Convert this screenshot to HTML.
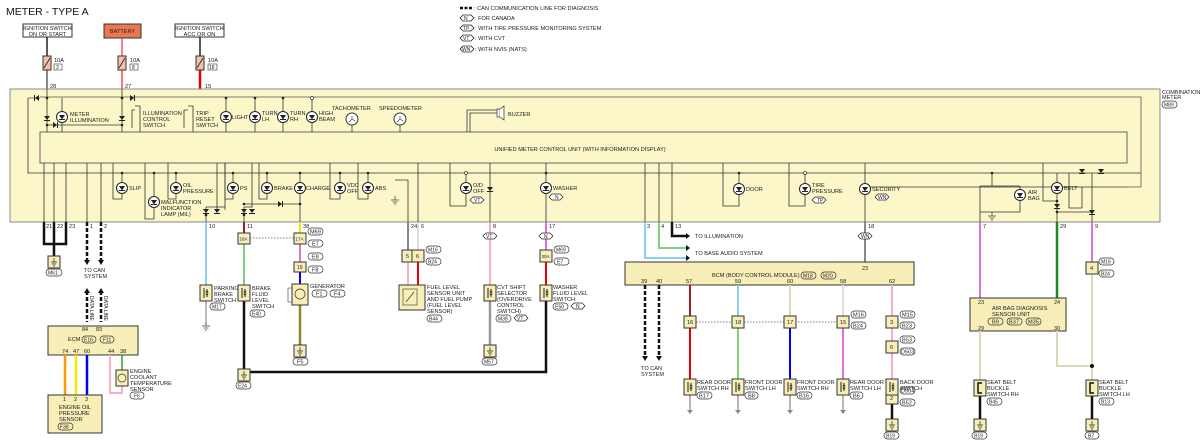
<!DOCTYPE html>
<html><head><meta charset="utf-8"><style>
html,body{margin:0;padding:0;background:#fff;width:1200px;height:441px;overflow:hidden}
svg{display:block}
text{font-family:"Liberation Sans",sans-serif;font-size:5.6px;fill:#222}
.w{fill:none;stroke-linecap:butt}
</style></head><body>
<svg width="1200" height="441" viewBox="0 0 1200 441" xmlns="http://www.w3.org/2000/svg" overflow="hidden">
<defs>
<g id="led"><circle r="5.5" fill="#fff" stroke="#222" stroke-width="1"/><path d="M-3,-2 L3,-2 L0,2.5 Z" fill="#222"/><path d="M-3,2.5 H3" stroke="#222" stroke-width="1"/></g>
<g id="dd"><path d="M-3,-2 L3,-2 L0,2 Z" fill="#222"/><path d="M-3,2.5 H3" stroke="#222"/></g>
<g id="gnd"><path d="M0,0 V4 M-4,4 H4 M-2.5,6 H2.5 M-1,8 H1" stroke="#444" stroke-width="0.8" fill="none"/></g>
<g id="sw"><rect x="-6" y="-8" width="12" height="16" fill="#f7eeb8" stroke="#333"/><path d="M-2,-5 V5 M1,-4 L1,-1 M1,1 L1,4" stroke="#222"/><circle cx="1" cy="-1" r="1" fill="none" stroke="#222" stroke-width="0.6"/><circle cx="1" cy="1" r="1" fill="none" stroke="#222" stroke-width="0.6"/></g>
<g id="gbox"><rect x="-6" y="-6" width="12" height="12" fill="#f7eeb8" stroke="#333"/><path d="M0,-4 V0 M-3,0 H3 M-2,2 H2 M-1,4 H1" stroke="#222" stroke-width="0.7"/></g>
</defs>

<text x="6" y="15" style="font-size:10.5px;fill:#111">METER - TYPE A</text>
<path d="M460,8 H472" stroke="#111" stroke-width="2.5" stroke-dasharray="3,1.5"/>
<text x="474" y="10">: CAN COMMUNICATION LINE FOR DIAGNOSIS</text>
<g stroke="#222" fill="#fff" stroke-width="0.8">
<path d="M460,18 l3,-3 h8 l3,3 l-3,3 h-8z"/><path d="M460,28 l3,-3 h8 l3,3 l-3,3 h-8z"/><path d="M460,38 l3,-3 h8 l3,3 l-3,3 h-8z"/><path d="M460,49 l3,-3 h8 l3,3 l-3,3 h-8z"/></g>
<text x="464" y="20" style="font-size:5px">N</text><text x="463" y="30" style="font-size:5px">TP</text><text x="463" y="40" style="font-size:5px">VT</text><text x="462" y="51" style="font-size:5px">WN</text>
<text x="475" y="20">: FOR CANADA</text><text x="475" y="30">: WITH TIRE PRESSURE MONITORING SYSTEM</text><text x="475" y="40">: WITH CVT</text><text x="475" y="51">: WITH NVIS (NATS)</text>

<rect x="23" y="24" width="49" height="13" fill="#fff" stroke="#333"/>
<text x="47.5" y="30" text-anchor="middle">IGNITION SWITCH</text><text x="47.5" y="36" text-anchor="middle">ON OR START</text>
<rect x="104" y="24" width="37" height="14" fill="#e8784f" stroke="#333"/>
<text x="122.5" y="33" text-anchor="middle">BATTERY</text>
<rect x="175" y="24" width="49" height="13" fill="#fff" stroke="#333"/>
<text x="199.5" y="30" text-anchor="middle">IGNITION SWITCH</text><text x="199.5" y="36" text-anchor="middle">ACC OR ON</text>
<path d="M47,37 V57" stroke="#222" stroke-width="1.5"/><path d="M47,70 V89" stroke="#888" stroke-width="2"/>
<path d="M122,38 V57" stroke="#e33" stroke-width="1.2"/><path d="M122,70 V89" stroke="#f77" stroke-width="2"/>
<path d="M200,37 V57" stroke="#222" stroke-width="1.5"/><path d="M200,70 V89" stroke="#e00" stroke-width="2.5"/>
<g fill="#f3c2a8" stroke="#333"><rect x="43" y="56" width="8" height="14"/><rect x="118" y="56" width="8" height="14"/><rect x="196" y="56" width="8" height="14"/></g>
<path d="M44,68 L50,58 M119,68 L125,58 M197,68 L203,58" stroke="#333"/>
<text x="54" y="62">10A</text><rect x="54" y="64" width="8" height="6" fill="none" stroke="#333" stroke-width="0.6"/><text x="56" y="69" style="font-size:5px">3</text>
<text x="130" y="62">10A</text><rect x="130" y="64" width="8" height="6" fill="none" stroke="#333" stroke-width="0.6"/><text x="132" y="69" style="font-size:5px">8</text>
<text x="208" y="62">10A</text><rect x="208" y="64" width="9" height="6" fill="none" stroke="#333" stroke-width="0.6"/><text x="209" y="69" style="font-size:5px">18</text>
<text x="50" y="88">28</text><text x="125" y="88">27</text><text x="205" y="88">15</text>

<rect x="10" y="89" width="1150" height="133" fill="#fcf7c8" stroke="#888"/>
<text x="1162" y="94" style="font-size:5.5px">COMBINATION</text><text x="1162" y="99" style="font-size:5.5px">METER</text>
<rect x="1162" y="101" width="15" height="7" rx="3.5" fill="none" stroke="#333" stroke-width="0.7"/><text x="1164" y="106.5" style="font-size:5px">M89</text>
<g stroke="#333" stroke-width="0.8" fill="none">
<path d="M28,98 V173 H1141"/>
</g>
<rect x="40" y="132" width="1087" height="31" fill="#fcf7c8" stroke="#555" stroke-width="0.9"/>
<text x="580" y="151" text-anchor="middle">UNIFIED METER CONTROL UNIT (WITH INFORMATION DISPLAY)</text>
<path d="M1141,97 H40" stroke="#555" stroke-width="0.8" fill="none"/>
<path d="M28,98 H40" stroke="#555" stroke-width="0.8" fill="none"/>
<path d="M1141,97 V187 M1141,187 H1127" stroke="#555" stroke-width="0.8" fill="none"/>
<g stroke="#333" stroke-width="0.8" fill="none">
<path d="M47,89 V132 M122,89 V132 M62,98 V132 M226,98 V132 M255,98 V132 M283,98 V132 M312,98 V132"/>
<path d="M47,125 H122"/>
<path d="M135,110 H132 V128 M135,106 H140 V132 M188,110 H184 V128 M188,106 H193 V132"/>
<path d="M352,120 V132 M400,120 V132 M470,132 V113 H497 M467,132 V110 H497"/>
</g>
<use href="#dd" x="37" y="98" transform="rotate(90 37 98)"/><use href="#dd" x="132" y="98" transform="rotate(-90 132 98)"/>
<use href="#dd" x="47" y="118"/><use href="#dd" x="122" y="118"/><use href="#dd" x="55" y="125" transform="rotate(-90 55 125)"/>
<g fill="#222"><circle cx="47" cy="98" r="1.3"/><circle cx="122" cy="98" r="1.3"/><circle cx="226" cy="98" r="1.3"/><circle cx="255" cy="98" r="1.3"/><circle cx="283" cy="98" r="1.3"/><circle cx="47" cy="125" r="1.3"/><circle cx="122" cy="125" r="1.3"/></g>
<circle cx="312" cy="98" r="1.5" fill="#fff" stroke="#333" stroke-width="0.7"/>
<use href="#led" x="62" y="117"/><use href="#led" x="226" y="117"/><use href="#led" x="255" y="117"/><use href="#led" x="283" y="117"/><use href="#led" x="312" y="117"/>
<text x="70" y="116">METER</text><text x="70" y="122">ILLUMINATION</text>
<text x="143" y="115">ILLUMINATION</text><text x="143" y="121">CONTROL</text><text x="143" y="127">SWITCH</text>
<text x="196" y="115">TRIP</text><text x="196" y="121">RESET</text><text x="196" y="127">SWITCH</text>
<text x="232" y="119">LIGHT</text><text x="262" y="115">TURN</text><text x="262" y="121">LH</text><text x="290" y="115">TURN</text><text x="290" y="121">RH</text><text x="319" y="115">HIGH</text><text x="319" y="121">BEAM</text>
<circle cx="352" cy="119" r="6" fill="#fff" stroke="#333"/><circle cx="400" cy="119" r="6" fill="#fff" stroke="#333"/>
<path d="M352,119 l-3,3 M352,119 l3,2 M352,119 v-3 M400,119 l-3,3 M400,119 l3,2 M400,119 v-3" stroke="#333" stroke-width="0.6"/>
<text x="332" y="110">TACHOMETER</text><text x="379" y="110">SPEEDOMETER</text>
<rect x="497" y="109" width="3" height="8" fill="#fff" stroke="#333" stroke-width="0.7"/><path d="M500,109 L504,106 V120 L500,117" fill="#fff" stroke="#333" stroke-width="0.7"/>
<text x="508" y="116">BUZZER</text>

<g stroke="#333" stroke-width="0.8" fill="none">
<path d="M44,163 V222 M54,163 V222 M66,163 V222 M87,163 V222 M101,163 V222"/>
<path d="M113,163 V199 H122 V173 M145,163 V219 H154 V173 M168,163 V199 H176 V173"/>
<path d="M217,163 V210 M225,163 V210 M206,207 H225 M206,207 V222 M244,207 H252 V163 M244,207 V222"/>
<path d="M225,163 V199 H233 V173 M259,163 V199 H267 V173 M244,204 H300 M300,173 V222"/>
<path d="M330,163 V199 H340 V173 M358,163 V199 H368 V173 M395,180 H408 V222 M418,163 V222"/>
<path d="M450,163 V206 H466 V173 M490,163 V222 M546,163 V222"/>
<path d="M645,163 V222 M659,163 V222 M672,163 V222 M723,163 V206 H739 V173 M789,163 V206 H805 V173"/>
<path d="M865,163 V222 M1127,187 H865"/>
<path d="M980,186 V222 M980,186 H1020 M1020,186 V212 H980 M992,173 V186 M1043,163 V201 H1057 V173 M1057,201 V222 M1057,212 H1092 M1069,173 V208 H1082 M1092,173 V222"/>
<path d="M1082,187 V208"/>
</g>
<g fill="#222"><circle cx="122" cy="173" r="1.3"/><circle cx="154" cy="173" r="1.3"/><circle cx="176" cy="173" r="1.3"/><circle cx="233" cy="173" r="1.3"/><circle cx="267" cy="173" r="1.3"/><circle cx="300" cy="173" r="1.3"/><circle cx="340" cy="173" r="1.3"/><circle cx="368" cy="173" r="1.3"/><circle cx="546" cy="173" r="1.3"/><circle cx="739" cy="173" r="1.3"/><circle cx="992" cy="173" r="1.3"/><circle cx="300" cy="204" r="1.3"/><circle cx="244" cy="204" r="1.3"/><circle cx="1057" cy="201" r="1.3"/><circle cx="1057" cy="212" r="1.3"/><circle cx="1092" cy="212" r="1.3"/><circle cx="206" cy="215" r="1.3"/><circle cx="244" cy="215" r="1.3"/></g>
<circle cx="466" cy="173" r="1.5" fill="#fff" stroke="#333" stroke-width="0.7"/><circle cx="805" cy="173" r="1.5" fill="#fff" stroke="#333" stroke-width="0.7"/>
<use href="#led" x="122" y="188"/><use href="#led" x="154" y="202"/><use href="#led" x="176" y="188"/><use href="#led" x="233" y="188"/><use href="#led" x="267" y="188"/><use href="#led" x="300" y="188"/><use href="#led" x="340" y="188"/><use href="#led" x="368" y="188"/><use href="#led" x="466" y="188"/><use href="#led" x="546" y="188"/><use href="#led" x="739" y="189"/><use href="#led" x="805" y="189"/><use href="#led" x="865" y="189"/><use href="#led" x="1020" y="195"/><use href="#led" x="1057" y="188"/>
<use href="#dd" x="206" y="211"/><use href="#dd" x="217" y="211"/><use href="#dd" x="244" y="211"/><use href="#dd" x="252" y="211"/><use href="#dd" x="280" y="204" transform="rotate(-90 280 204)"/><use href="#dd" x="490" y="189"/><use href="#dd" x="1082" y="171"/><use href="#dd" x="1101" y="171"/><use href="#dd" x="1057" y="206"/><use href="#dd" x="1092" y="212"/>
<use href="#gnd" x="395" y="196"/><use href="#gnd" x="992" y="212"/>
<text x="129" y="190">SLIP</text><text x="161" y="204">MALFUNCTION</text><text x="161" y="210">INDICATOR</text><text x="161" y="216">LAMP (MIL)</text>
<text x="183" y="187">OIL</text><text x="183" y="193">PRESSURE</text><text x="240" y="190">PS</text><text x="274" y="190">BRAKE</text><text x="306" y="190">CHARGE</text>
<text x="347" y="187">VDC</text><text x="347" y="193">OFF</text><text x="375" y="190">ABS</text>
<text x="473" y="187">O/D</text><text x="473" y="193">OFF</text><text x="553" y="190">WASHER</text>
<text x="746" y="191">DOOR</text><text x="812" y="187">TIRE</text><text x="812" y="193">PRESSURE</text>
<text x="872" y="191">SECURITY</text><text x="1028" y="194">AIR</text><text x="1028" y="200">BAG</text><text x="1064" y="190">BELT</text>
<g stroke="#222" fill="#fff" stroke-width="0.7">
<path d="M470,200 l3,-3 h8 l3,3 l-3,3 h-8z"/><path d="M549,197 l3,-3 h8 l3,3 l-3,3 h-8z"/><path d="M812,200 l3,-3 h8 l3,3 l-3,3 h-8z"/><path d="M875,197 l3,-3 h8 l3,3 l-3,3 h-8z"/></g>
<text x="474" y="202" style="font-size:5px">VT</text><text x="555" y="199" style="font-size:5px">N</text><text x="817" y="202" style="font-size:5px">TP</text><text x="878" y="199" style="font-size:5px">WN</text>

<g style="font-size:5.5px">
<text x="46" y="228">21</text><text x="57" y="228">22</text><text x="69" y="228">23</text><text x="90" y="228">1</text><text x="104" y="228">2</text><text x="209" y="228">10</text><text x="247" y="228">11</text><text x="303" y="228">38</text><text x="411" y="228">24</text><text x="421" y="228">6</text><text x="493" y="228">8</text><text x="549" y="228">17</text><text x="647" y="228">3</text><text x="661" y="228">4</text><text x="675" y="228">13</text><text x="868" y="228">18</text><text x="983" y="228">7</text><text x="1060" y="228">29</text><text x="1095" y="228">9</text>
</g>

<path d="M44,222 V244 H66 V222 M54,222 V262" class="w" stroke="#111" stroke-width="2.5"/>
<use href="#gbox" x="54" y="262"/>
<rect x="46" y="269" width="16" height="7" rx="3.5" fill="none" stroke="#333" stroke-width="0.7"/><text x="48" y="274.5" style="font-size:5px">M61</text>
<path d="M87,222 V261 M101,222 V261 M87,291 V322 M101,291 V322" stroke="#111" stroke-width="2.5" stroke-dasharray="4,2"/>
<path d="M84,260 L87,265 L90,260 Z M98,260 L101,265 L104,260 Z M84,293 L87,288 L90,293 Z M98,293 L101,288 L104,293 Z" fill="#111"/>
<text x="84" y="272">TO CAN</text><text x="84" y="278">SYSTEM</text>
<text x="90" y="296" transform="rotate(90 90 296)" style="font-size:5px">DATA LINE</text><text x="104" y="296" transform="rotate(90 104 296)" style="font-size:5px">DATA LINE</text>
<rect x="48" y="326" width="90" height="29" fill="#f7eeb8" stroke="#333"/>
<text x="82" y="331" style="font-size:5.5px">84</text><text x="96" y="331" style="font-size:5.5px">83</text>
<text x="68" y="341">ECM</text><rect x="82" y="336" width="14" height="7" rx="3.5" fill="none" stroke="#333" stroke-width="0.7"/><text x="84" y="341.5" style="font-size:5px">E16</text><rect x="100" y="336" width="14" height="7" rx="3.5" fill="none" stroke="#333" stroke-width="0.7"/><text x="103" y="341.5" style="font-size:5px">F11</text>
<g style="font-size:5.5px"><text x="62" y="353">74</text><text x="73" y="353">47</text><text x="84" y="353">60</text><text x="108" y="353">44</text><text x="120" y="353">38</text></g>
<path d="M65,355 V395" stroke="#f90" stroke-width="2.5"/><path d="M76,355 V395" stroke="#ee0" stroke-width="2.5"/><path d="M87,355 V395" stroke="#00f" stroke-width="2.5"/>
<path d="M110,355 V393 H122 V386" class="w" stroke="#f8b0c0" stroke-width="2"/><path d="M122,355 V370" stroke="#080" stroke-width="1.2"/>
<rect x="116" y="370" width="12" height="16" fill="#f7eeb8" stroke="#333"/><circle cx="122" cy="378" r="4" fill="none" stroke="#333" stroke-width="0.7"/>
<text x="130" y="373">ENGINE</text><text x="130" y="379">COOLANT</text><text x="130" y="385">TEMPERATURE</text><text x="130" y="391">SENSOR</text>
<rect x="130" y="392" width="14" height="7" rx="3.5" fill="none" stroke="#333" stroke-width="0.7"/><text x="134" y="397.5" style="font-size:5px">F6</text>
<rect x="48" y="395" width="54" height="38" fill="#f7eeb8" stroke="#333"/>
<text x="63" y="401" style="font-size:5.5px">1</text><text x="74" y="401" style="font-size:5.5px">2</text><text x="85" y="401" style="font-size:5.5px">3</text>
<text x="59" y="409">ENGINE OIL</text><text x="59" y="415">PRESSURE</text><text x="59" y="421">SENSOR</text>
<rect x="58" y="423" width="15" height="7" rx="3.5" fill="none" stroke="#333" stroke-width="0.7"/><text x="60" y="428.5" style="font-size:5px">F38</text>

<path d="M206,222 V285" stroke="#8cd0f0" stroke-width="2"/><path d="M206,300 V325" stroke="#555" stroke-width="0.8"/><use href="#gnd" x="206" y="322"/>
<use href="#sw" x="206" y="293"/><text x="214" y="290">PARKING</text><text x="214" y="296">BRAKE</text><text x="214" y="302">SWITCH</text>
<rect x="210" y="303" width="15" height="7" rx="3.5" fill="none" stroke="#333" stroke-width="0.7"/><text x="212" y="308.5" style="font-size:5px">M17</text>
<path d="M244,222 V233" stroke="#a02020" stroke-width="2"/><path d="M244,244 V285" stroke="#7fd07f" stroke-width="2"/><path d="M244,300 V372 H546 V300" class="w" stroke="#111" stroke-width="2.5"/>
<rect x="238" y="233" width="12" height="11" fill="#f7eeb8" stroke="#333"/><text x="239.5" y="240.5" style="font-size:4.5px">18A</text>
<path d="M250,238 H294" stroke="#555" stroke-width="0.7" stroke-dasharray="1.5,1.5"/>
<use href="#sw" x="244" y="293"/><text x="252" y="290">BRAKE</text><text x="252" y="296">FLUID</text><text x="252" y="302">LEVEL</text><text x="252" y="308">SWITCH</text>
<rect x="250" y="310" width="15" height="7" rx="3.5" fill="none" stroke="#333" stroke-width="0.7"/><text x="252" y="315.5" style="font-size:5px">E40</text>
<use href="#gbox" x="244" y="375"/><rect x="236" y="382" width="15" height="7" rx="3.5" fill="none" stroke="#333" stroke-width="0.7"/><text x="238" y="387.5" style="font-size:5px">E24</text>
<path d="M300,222 V233" stroke="#ee0" stroke-width="2"/><path d="M300,244 V262" stroke="#e070e0" stroke-width="2"/><path d="M300,272 V285" stroke="#00f" stroke-width="2"/><path d="M300,305 V345" stroke="#8a8a2a" stroke-width="2.5"/>
<rect x="294" y="233" width="12" height="11" fill="#f7eeb8" stroke="#333"/><text x="295.5" y="240.5" style="font-size:4.5px">17A</text>
<rect x="294" y="262" width="12" height="10" fill="#f7eeb8" stroke="#333"/><text x="297" y="269" style="font-size:5px">19</text>
<g fill="none" stroke="#333" stroke-width="0.7"><rect x="308" y="228" width="15" height="7" rx="3.5"/><rect x="308" y="240" width="15" height="7" rx="3.5"/><rect x="308" y="253" width="15" height="7" rx="3.5"/><rect x="308" y="266" width="15" height="7" rx="3.5"/><rect x="312" y="290" width="15" height="7" rx="3.5"/><rect x="330" y="290" width="15" height="7" rx="3.5"/><rect x="293" y="358" width="15" height="7" rx="3.5"/></g>
<g style="font-size:5px"><text x="310" y="233.5">M69</text><text x="312" y="245.5">E7</text><text x="312" y="258.5">E8</text><text x="312" y="271.5">F8</text><text x="316" y="295.5">F1</text><text x="334" y="295.5">F4</text><text x="297" y="363.5">F5</text></g>
<rect x="292" y="284" width="16" height="21" fill="#f7eeb8" stroke="#333"/><circle cx="300" cy="294" r="5" fill="none" stroke="#333" stroke-width="0.7"/><path d="M292,288 H288 V302 H292" fill="none" stroke="#333" stroke-width="0.6"/>
<text x="310" y="288">GENERATOR</text><use href="#gbox" x="300" y="351"/>
<path d="M408,222 V250" stroke="#888" stroke-width="2"/><path d="M418,222 V250" stroke="#ddd" stroke-width="2"/><path d="M408,262 V285" stroke="#f8b0c0" stroke-width="2"/><path d="M418,262 V285" stroke="#e00" stroke-width="2"/>
<rect x="402" y="250" width="12" height="12" fill="#f7eeb8" stroke="#333"/><rect x="412" y="250" width="12" height="12" fill="#f7eeb8" stroke="#333"/><text x="406" y="258" style="font-size:5.5px">5</text><text x="416" y="258" style="font-size:5.5px">6</text>
<rect x="426" y="246" width="15" height="7" rx="3.5" fill="none" stroke="#333" stroke-width="0.7"/><text x="428" y="251.5" style="font-size:5px">M16</text><rect x="426" y="258" width="15" height="7" rx="3.5" fill="none" stroke="#333" stroke-width="0.7"/><text x="428" y="263.5" style="font-size:5px">B24</text>
<rect x="399" y="285" width="26" height="25" fill="#f7eeb8" stroke="#333"/><rect x="403" y="289" width="14" height="16" fill="none" stroke="#333" stroke-width="0.6"/><path d="M406,302 L414,292" stroke="#333" stroke-width="0.7"/>
<text x="427" y="289">FUEL LEVEL</text><text x="427" y="295">SENSOR UNIT</text><text x="427" y="301">AND FUEL PUMP</text><text x="427" y="307">(FUEL LEVEL</text><text x="427" y="313">SENSOR)</text>
<rect x="427" y="315" width="15" height="7" rx="3.5" fill="none" stroke="#333" stroke-width="0.7"/><text x="429" y="320.5" style="font-size:5px">B44</text>
<path d="M490,222 V285" stroke="#f8b0c0" stroke-width="2"/><path d="M490,300 V345" stroke="#999" stroke-width="2.5"/>
<path d="M483,236 l3,-3 h8 l3,3 l-3,3 h-8z" fill="#fff" stroke="#222" stroke-width="0.7"/><text x="486" y="238" style="font-size:5px">VT</text>
<use href="#sw" x="490" y="293"/><use href="#gbox" x="490" y="351"/>
<text x="497" y="289">CVT SHIFT</text><text x="497" y="295">SELECTOR</text><text x="497" y="301">(OVERDRIVE</text><text x="497" y="307">CONTROL</text><text x="497" y="313">SWITCH)</text>
<rect x="496" y="315" width="15" height="7" rx="3.5" fill="none" stroke="#333" stroke-width="0.7"/><text x="498" y="320.5" style="font-size:5px">M38</text><path d="M514,318 l3,-3 h8 l3,3 l-3,3 h-8z" fill="#fff" stroke="#222" stroke-width="0.7"/><text x="517" y="320" style="font-size:5px">VT</text>
<rect x="482" y="358" width="15" height="7" rx="3.5" fill="none" stroke="#333" stroke-width="0.7"/><text x="484" y="363.5" style="font-size:5px">M57</text>
<path d="M546,222 V250" stroke="#e070e0" stroke-width="2"/><path d="M546,262 V285" stroke="#e00" stroke-width="2"/>
<path d="M539,236 l3,-3 h8 l3,3 l-3,3 h-8z" fill="#fff" stroke="#222" stroke-width="0.7"/><text x="544" y="238" style="font-size:5px">N</text>
<rect x="540" y="250" width="12" height="12" fill="#f7eeb8" stroke="#333"/><text x="541.5" y="258" style="font-size:4.5px">30A</text>
<rect x="554" y="246" width="15" height="7" rx="3.5" fill="none" stroke="#333" stroke-width="0.7"/><text x="556" y="251.5" style="font-size:5px">M69</text><rect x="554" y="258" width="15" height="7" rx="3.5" fill="none" stroke="#333" stroke-width="0.7"/><text x="557" y="263.5" style="font-size:5px">E7</text>
<use href="#sw" x="546" y="293"/><text x="553" y="289">WASHER</text><text x="553" y="295">FLUID LEVEL</text><text x="553" y="301">SWITCH</text>
<rect x="553" y="303" width="15" height="7" rx="3.5" fill="none" stroke="#333" stroke-width="0.7"/><text x="555" y="308.5" style="font-size:5px">E50</text><path d="M571,306 l3,-3 h8 l3,3 l-3,3 h-8z" fill="#fff" stroke="#222" stroke-width="0.7"/><text x="576" y="308" style="font-size:5px">N</text>

<path d="M645,222 V258 H686" class="w" stroke="#8cd0f0" stroke-width="2"/><path d="M659,222 V248 H686" class="w" stroke="#7fd07f" stroke-width="2"/><path d="M672,222 V236 H686" class="w" stroke="#111" stroke-width="2.5"/>
<path d="M686,233 L690,236 L686,239Z M686,245 L690,248 L686,251Z M686,255 L690,258 L686,261Z" fill="#111"/>
<text x="695" y="238">TO ILLUMINATION</text><text x="695" y="255">TO BASE AUDIO SYSTEM</text>
<path d="M865,222 V262" stroke="#888" stroke-width="2"/>
<path d="M858,236 l3,-3 h8 l3,3 l-3,3 h-8z" fill="#fff" stroke="#222" stroke-width="0.7"/><text x="861" y="238" style="font-size:5px">WN</text>
<rect x="625" y="262" width="289" height="23" fill="#f7eeb8" stroke="#333"/>
<text x="862" y="270" style="font-size:5.5px">23</text>
<text x="712" y="277">BCM (BODY CONTROL MODULE)</text><rect x="801" y="272" width="15" height="7" rx="3.5" fill="none" stroke="#333" stroke-width="0.7"/><text x="803" y="277.5" style="font-size:5px">M18</text><rect x="821" y="272" width="15" height="7" rx="3.5" fill="none" stroke="#333" stroke-width="0.7"/><text x="823" y="277.5" style="font-size:5px">M20</text>
<g style="font-size:5.5px"><text x="641" y="283">39</text><text x="656" y="283">40</text><text x="686" y="283">57</text><text x="735" y="283">59</text><text x="787" y="283">60</text><text x="840" y="283">58</text><text x="889" y="283">62</text></g>
<path d="M645,285 V356 M659,285 V356" stroke="#111" stroke-width="2.5" stroke-dasharray="4,2"/>
<path d="M642,356 L645,361 L648,356Z M656,356 L659,361 L662,356Z" fill="#111"/><text x="641" y="370">TO CAN</text><text x="641" y="376">SYSTEM</text>
<path d="M690,285 V316" stroke="#a02020" stroke-width="2"/><path d="M690,328 V380" stroke="#e00" stroke-width="2"/>
<path d="M738,285 V316" stroke="#8cd0f0" stroke-width="2"/><path d="M738,328 V380" stroke="#7fd07f" stroke-width="2"/>
<path d="M790,285 V316" stroke="#ddd8b8" stroke-width="2"/><path d="M790,328 V380" stroke="#00f" stroke-width="2"/>
<path d="M843,285 V316" stroke="#ddd" stroke-width="2"/><path d="M843,328 V380" stroke="#e070e0" stroke-width="2"/>
<path d="M892,285 V380" stroke="#f8b0c0" stroke-width="2"/><path d="M892,395 V420" stroke="#111" stroke-width="2.5"/>
<path d="M696,322 H838" stroke="#555" stroke-width="0.7" stroke-dasharray="1.5,1.5"/>
<g fill="#f7eeb8" stroke="#333"><rect x="684" y="316" width="12" height="12"/><rect x="732" y="316" width="12" height="12"/><rect x="784" y="316" width="12" height="12"/><rect x="837" y="316" width="12" height="12"/><rect x="886" y="316" width="12" height="12"/><rect x="886" y="341" width="12" height="12"/><rect x="886" y="392" width="12" height="12"/></g>
<g style="font-size:5.5px"><text x="687" y="324">16</text><text x="735" y="324">18</text><text x="787" y="324">17</text><text x="840" y="324">15</text><text x="890" y="324">3</text><text x="890" y="349">6</text><text x="890" y="400">2</text></g>
<g fill="none" stroke="#333" stroke-width="0.7"><rect x="851" y="311" width="15" height="7" rx="3.5"/><rect x="851" y="322" width="15" height="7" rx="3.5"/><rect x="900" y="311" width="15" height="7" rx="3.5"/><rect x="900" y="322" width="15" height="7" rx="3.5"/><rect x="900" y="336" width="15" height="7" rx="3.5"/><rect x="900" y="348" width="15" height="7" rx="3.5"/><rect x="900" y="387" width="15" height="7" rx="3.5"/><rect x="900" y="399" width="15" height="7" rx="3.5"/></g>
<g style="font-size:5px"><text x="853" y="316.5">M16</text><text x="853" y="327.5">B24</text><text x="902" y="316.5">M15</text><text x="902" y="327.5">B23</text><text x="902" y="341.5">B53</text><text x="901" y="353.5">D503</text><text x="901" y="392.5">D504</text><text x="902" y="404.5">B52</text></g>
<g stroke="#888" stroke-width="1.2"><path d="M690,395 V410 M738,395 V410 M790,395 V410 M843,395 V410"/></g>
<path d="M687,410 L690,414 L693,410Z M735,410 L738,414 L741,410Z M787,410 L790,414 L793,410Z M840,410 L843,414 L846,410Z" fill="#888"/>
<use href="#sw" x="690" y="387"/><use href="#sw" x="738" y="387"/><use href="#sw" x="790" y="387"/><use href="#sw" x="843" y="387"/><use href="#sw" x="892" y="387"/>
<text x="697" y="384">REAR DOOR</text><text x="697" y="390">SWITCH RH</text><text x="745" y="384">FRONT DOOR</text><text x="745" y="390">SWITCH LH</text><text x="797" y="384">FRONT DOOR</text><text x="797" y="390">SWITCH RH</text><text x="850" y="384">REAR DOOR</text><text x="850" y="390">SWITCH LH</text><text x="900" y="384">BACK DOOR</text><text x="900" y="390">SWITCH</text>
<g fill="none" stroke="#333" stroke-width="0.7"><rect x="697" y="392" width="15" height="7" rx="3.5"/><rect x="745" y="392" width="13" height="7" rx="3.5"/><rect x="797" y="392" width="15" height="7" rx="3.5"/><rect x="850" y="392" width="13" height="7" rx="3.5"/></g>
<g style="font-size:5px"><text x="699" y="397.5">B17</text><text x="748" y="397.5">B8</text><text x="799" y="397.5">B16</text><text x="853" y="397.5">B6</text></g>
<use href="#gbox" x="892" y="425"/><rect x="884" y="432" width="15" height="7" rx="3.5" fill="none" stroke="#333" stroke-width="0.7"/><text x="886" y="437.5" style="font-size:5px">B19</text>
<path d="M980,222 V298" stroke="#e070e0" stroke-width="2"/><path d="M1057,222 V298" stroke="#1a8a1a" stroke-width="2.5"/>
<rect x="970" y="298" width="96" height="33" fill="#f7eeb8" stroke="#333"/>
<text x="978" y="304" style="font-size:5.5px">23</text><text x="1054" y="304" style="font-size:5.5px">24</text>
<text x="992" y="310">AIR BAG DIAGNOSIS</text><text x="992" y="316">SENSOR UNIT</text>
<g fill="none" stroke="#333" stroke-width="0.7"><rect x="988" y="318" width="15" height="7" rx="3.5"/><rect x="1007" y="318" width="15" height="7" rx="3.5"/><rect x="1026" y="318" width="15" height="7" rx="3.5"/></g>
<g style="font-size:5px"><text x="992" y="323.5">B9</text><text x="1009" y="323.5">B37</text><text x="1028" y="323.5">M35</text></g>
<text x="978" y="330" style="font-size:5.5px">29</text><text x="1054" y="330" style="font-size:5.5px">30</text>
<path d="M980,331 V380" stroke="#ddd8b8" stroke-width="2"/><path d="M1057,331 V366 H1092" class="w" stroke="#ddd8b8" stroke-width="2"/>
<path d="M1092,222 V262" stroke="#e070e0" stroke-width="2"/><path d="M1092,274 V380" stroke="#ddd8b8" stroke-width="2"/><circle cx="1092" cy="366" r="2" fill="#111"/>
<rect x="1086" y="262" width="12" height="12" fill="#f7eeb8" stroke="#333"/><text x="1090" y="270" style="font-size:5.5px">4</text>
<rect x="1099" y="258" width="15" height="7" rx="3.5" fill="none" stroke="#333" stroke-width="0.7"/><text x="1101" y="263.5" style="font-size:5px">M16</text><rect x="1099" y="270" width="15" height="7" rx="3.5" fill="none" stroke="#333" stroke-width="0.7"/><text x="1101" y="275.5" style="font-size:5px">B24</text>
<path d="M980,395 V420 M1092,395 V420" stroke="#111" stroke-width="2.5"/>
<g fill="#f7eeb8" stroke="#333"><rect x="974" y="380" width="12" height="16"/><rect x="1086" y="380" width="12" height="16"/></g>
<path d="M982,383 H978 V393 H982 M1094,383 H1090 V393 H1094" fill="none" stroke="#111" stroke-width="1.5"/>
<text x="987" y="384">SEAT BELT</text><text x="987" y="390">BUCKLE</text><text x="987" y="396">SWITCH RH</text><text x="1099" y="384">SEAT BELT</text><text x="1099" y="390">BUCKLE</text><text x="1099" y="396">SWITCH LH</text>
<rect x="987" y="398" width="15" height="7" rx="3.5" fill="none" stroke="#333" stroke-width="0.7"/><text x="989" y="403.5" style="font-size:5px">B45</text><rect x="1099" y="398" width="15" height="7" rx="3.5" fill="none" stroke="#333" stroke-width="0.7"/><text x="1101" y="403.5" style="font-size:5px">B13</text>
<use href="#gbox" x="980" y="425"/><use href="#gbox" x="1092" y="425"/>
<rect x="972" y="432" width="15" height="7" rx="3.5" fill="none" stroke="#333" stroke-width="0.7"/><text x="974" y="437.5" style="font-size:5px">B19</text><rect x="1085" y="432" width="14" height="7" rx="3.5" fill="none" stroke="#333" stroke-width="0.7"/><text x="1088" y="437.5" style="font-size:5px">B7</text>
</svg>
</body></html>
